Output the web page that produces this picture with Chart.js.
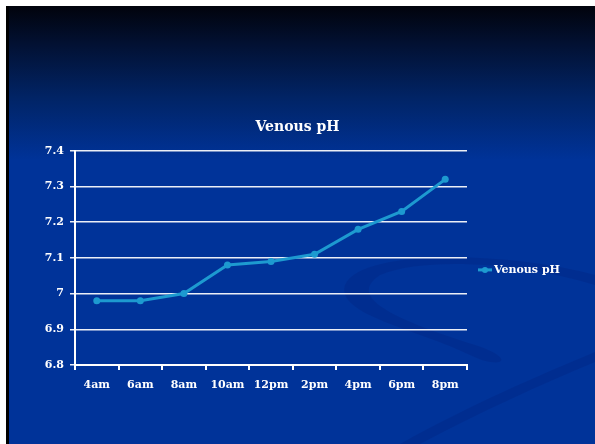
<!DOCTYPE html>
<html>
<head>
<meta charset="utf-8">
<script src="https://cdn.jsdelivr.net/npm/chart.js@4/dist/chart.umd.min.js"></script>
<style>
  html, body { margin: 0; padding: 0; background: #ffffff; }
  #wrap { position: absolute; left: 0; top: 0; width: 595px; height: 444px; }
</style>
</head>
<body>
<div id="wrap"><canvas id="c" width="595" height="444"></canvas></div>
<script>
const categories = ["4am", "6am", "8am", "10am", "12pm", "2pm", "4pm", "6pm", "8pm"];
const venousPH = [6.98, 6.98, 7.00, 7.08, 7.09, 7.11, 7.18, 7.23, 7.32];
const seriesName = "Venous pH";
const chartTitle = "Venous pH";
const yMin = 6.8, yMax = 7.4, yStep = 0.1;

const FONT = "'DejaVu Serif', 'Liberation Serif', serif";
const LINE_COLOR = "#1d9ad0";

const backgroundPlugin = {
  id: "slideBackground",
  beforeDraw(chart) {
    const ctx = chart.ctx, W = chart.width, H = chart.height;
    ctx.save();
    ctx.fillStyle = "#ffffff";
    ctx.fillRect(0, 0, W, H);
    const g = ctx.createLinearGradient(0, 6, 0, 160);
    g.addColorStop(0, "#01030c");
    g.addColorStop(0.25, "#021133");
    g.addColorStop(0.6, "#012466");
    g.addColorStop(1, "#003399");
    ctx.fillStyle = g;
    ctx.fillRect(7, 6, W - 7, H - 6);
    ctx.fillStyle = "#000000";
    ctx.fillRect(6, 6, 3, H - 6);
    // decorative swooshes
    ctx.fillStyle = "rgba(0, 25, 110, 0.2)";
    ctx.beginPath();
    ctx.moveTo(595, 275);
    ctx.bezierCurveTo(500, 250, 360, 250, 345, 285);
    ctx.bezierCurveTo(335, 315, 420, 330, 470, 355);
    ctx.bezierCurveTo(500, 370, 520, 360, 475, 345);
    ctx.bezierCurveTo(380, 315, 350, 295, 380, 275);
    ctx.bezierCurveTo(430, 255, 530, 265, 595, 285);
    ctx.closePath();
    ctx.fill();
    ctx.beginPath();
    ctx.moveTo(400, 444);
    ctx.bezierCurveTo(470, 405, 540, 375, 595, 352);
    ctx.lineTo(595, 362);
    ctx.bezierCurveTo(540, 385, 480, 412, 420, 444);
    ctx.closePath();
    ctx.fill();
    ctx.restore();
  }
};

const legendPlugin = {
  id: "customLegend",
  afterDraw(chart) {
    const ctx = chart.ctx, area = chart.chartArea;
    const ds = chart.data.datasets[0];
    const x0 = area.right + 11;
    const y = area.top + (area.bottom - area.top) * 0.556;
    ctx.save();
    ctx.strokeStyle = ds.borderColor;
    ctx.lineWidth = 3;
    ctx.beginPath();
    ctx.moveTo(x0, y);
    ctx.lineTo(x0 + 14, y);
    ctx.stroke();
    ctx.fillStyle = ds.borderColor;
    ctx.beginPath();
    ctx.arc(x0 + 7, y, 3, 0, Math.PI * 2);
    ctx.fill();
    ctx.fillStyle = "#ffffff";
    ctx.font = "bold 11px " + FONT;
    ctx.textBaseline = "middle";
    ctx.textAlign = "left";
    ctx.fillText(ds.label, x0 + 16, y);
    ctx.restore();
  }
};

new Chart(document.getElementById("c"), {
  type: "line",
  data: {
    labels: categories,
    datasets: [{
      label: seriesName,
      data: venousPH,
      borderColor: LINE_COLOR,
      backgroundColor: LINE_COLOR,
      borderWidth: 3,
      pointRadius: 3.5,
      pointBorderWidth: 0,
      pointBackgroundColor: LINE_COLOR,
      tension: 0,
      fill: false
    }]
  },
  options: {
    responsive: false,
    animation: false,
    devicePixelRatio: 1,
    layout: { padding: { left: 0, right: 0, top: 0, bottom: 0 } },
    plugins: {
      legend: { display: false },
      tooltip: { enabled: false },
      title: {
        display: true,
        text: chartTitle,
        color: "#ffffff",
        font: { family: FONT, size: 14, weight: "bold" },
        padding: { top: 119, bottom: 15 }
      }
    },
    scales: {
      x: {
        type: "category",
        offset: true,
        grid: {
          offset: true,
          drawOnChartArea: false,
          drawTicks: true,
          tickLength: 5,
          color: "#ffffff",
          lineWidth: 2
        },
        border: { display: true, color: "#ffffff", width: 2 },
        ticks: {
          color: "#ffffff",
          font: { family: FONT, size: 11, weight: "bold" },
          padding: 9,
          maxRotation: 0,
          autoSkip: false
        },
        afterFit(scale) { scale.height = 79; }
      },
      y: {
        min: yMin,
        max: yMax,
        grid: {
          color: "rgba(255,255,255,0.92)",
          lineWidth: 1.5,
          tickLength: 5,
          drawTicks: true
        },
        border: { display: true, color: "#ffffff", width: 2 },
        ticks: {
          stepSize: yStep,
          color: "#ffffff",
          font: { family: FONT, size: 11, weight: "bold" },
          padding: 6,
          callback: (v) => String(Math.round(v * 10) / 10)
        },
        afterFit(scale) { scale.width = 75; }
      },
      yRight: {
        position: "right",
        display: true,
        grid: { display: false, drawTicks: false },
        border: { display: false },
        ticks: { display: false },
        afterFit(scale) { scale.width = 128; }
      }
    }
  },
  plugins: [backgroundPlugin, legendPlugin]
});
</script>
</body>
</html>
